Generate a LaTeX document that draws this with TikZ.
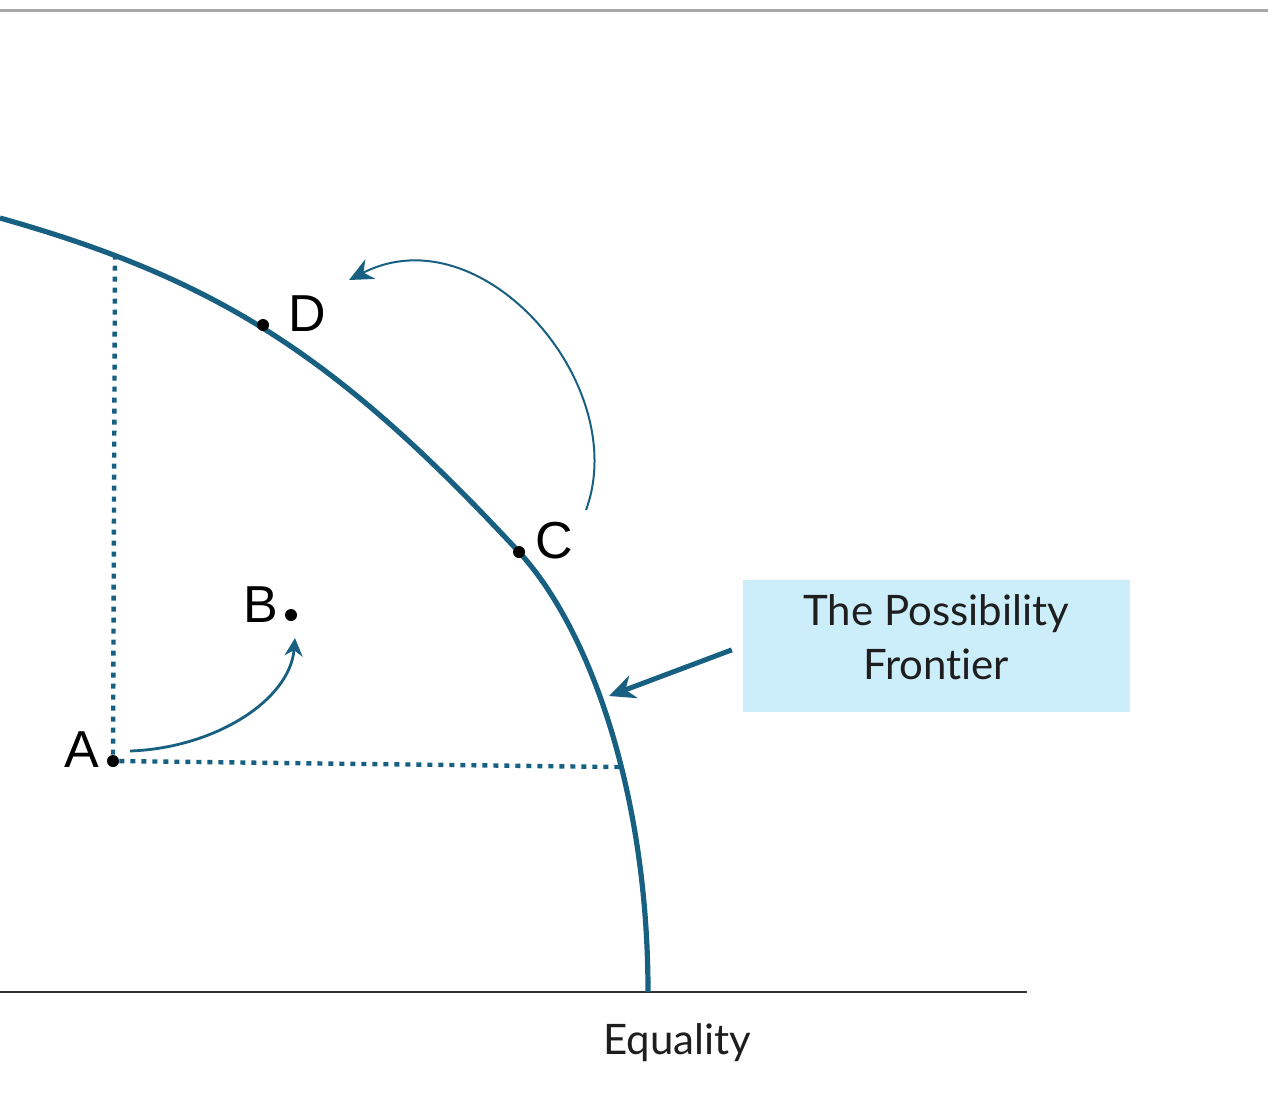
\documentclass[tikz,border=0pt]{standalone}
\usepackage{fontspec}
\setmainfont[Ligatures=NoCommon]{Lato}
\newfontfamily\letterfont{Liberation Sans}
\usepackage{tikz}
\usetikzlibrary{arrows.meta, positioning, calc}
\definecolor{frontierblue}{RGB}{24, 96, 130}
\definecolor{boxblue}{RGB}{204, 237, 250}
\definecolor{axisgray}{RGB}{50, 50, 50}
\definecolor{rulegray}{RGB}{168, 168, 168}
\definecolor{textgray}{RGB}{30, 30, 30}

\begin{document}
\begin{tikzpicture}[x=0.5pt, y=-0.5pt, >=Stealth,
  dot/.style={circle, fill=black, inner sep=0pt, minimum size=6pt},
  guide/.style={frontierblue, line width=2.2pt, dash pattern=on 2.5pt off 3pt},
  letter/.style={font=\letterfont\fontsize{26}{30}\selectfont, inner sep=0pt}]
  \useasboundingbox (0,0) rectangle (1268,1103);
  \draw[rulegray, line width=1.5pt] (0,10) -- (1268,10);
  \draw[axisgray, line width=1pt] (0,992) -- (1027,992);
  \node[text=textgray, font=\fontsize{21}{24}\selectfont] (equality) at (677,1043) {Equality};

  \coordinate (Cpos) at (519,552);
  % the frontier
  \draw[frontierblue, line width=2.6pt] (0,218) .. controls (220,280) and (339,358) .. (Cpos)
    .. controls (589,628) and (648,792) .. (648,992);
  \coordinate (ftop) at (115,254);
  \coordinate (fright) at (619,767);
  \coordinate (ftip) at (609,696);

  \node[dot] (A) at (113,761) {};
  \node[dot] (B) at (291,615) {};
  \node[dot] (C) at (Cpos) {};
  \node[dot] (D) at (263,325) {};
  \node[letter] (Alabel) at (82,750) {A};
  \node[letter] (Blabel) at (261,605) {B};
  \node[letter] (Clabel) at (554,541) {C};
  \node[letter] (Dlabel) at (307,314) {D};

  \draw[guide] (A) -- (ftop);
  \draw[guide] (A) -- (fright);

  \draw[frontierblue, line width=1.4pt, -{Stealth[length=9pt, width=9pt]}]
    ($(A)+(17,-10)$) .. controls (215,748) and (290,700) .. ($(B)+(4,23)$);
  \draw[frontierblue, line width=1pt, -{Stealth[length=12pt, width=11pt]}]
    ($(C)+(67,-42)$) .. controls (632,385) and (482,212) .. ($(D)+(86,-45)$);

  \node[fill=boxblue, minimum width=193.5pt, minimum height=66pt] (box) at (936,646) {};
  \node[text=textgray, align=center, font=\fontsize{21}{27}\selectfont] (boxtext)
    at ($(box.center)+(0,-9)$) {The Possibility\\Frontier};
  \draw[frontierblue, line width=2.5pt, -{Stealth[length=13pt, width=12pt]}, shorten <=5.5pt]
    (box.west) -- (ftip);
\end{tikzpicture}
\end{document}
